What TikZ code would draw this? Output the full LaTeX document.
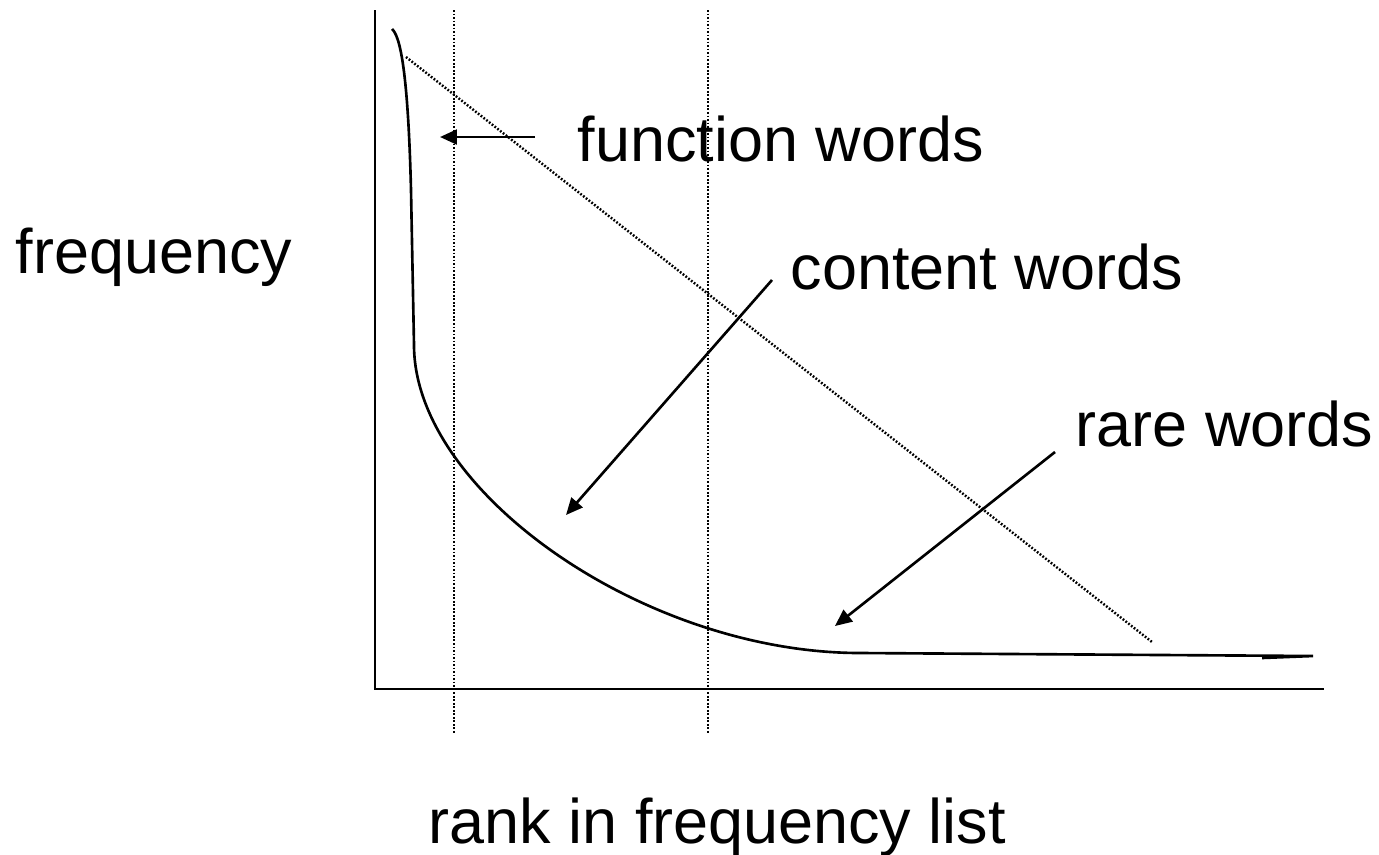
\documentclass[tikz,border=0pt]{standalone}
\usepackage{fontspec}
\setmainfont{Liberation Sans}
\usetikzlibrary{arrows.meta}

\begin{document}
\begin{tikzpicture}[x=0.01cm,y=-0.01cm,font=\fontsize{17.9pt}{21pt}\selectfont,
  >={Triangle[length=4.8pt,width=4.2pt]},
  axis/.style={line width=0.75pt},
  guide/.style={line width=0.7pt,dash pattern=on 0.5pt off 0.5pt},
  curve/.style={line width=0.75pt},
  pointer/.style={line width=0.75pt,->},
  lbl/.style={anchor=base west,inner sep=0pt}]
\useasboundingbox (0,0) rectangle (1379,854);
% axes
\draw[axis] (375,10) -- (375,689) -- (1324,689);
% band limits and straight reference line
\draw[guide] (454,10) -- (454,734);
\draw[guide] (708,10) -- (708,734);
\draw[guide] (406,57) -- (1152,642);
% rank/frequency curve
\draw[curve] (392,29) .. controls (400,36) and (408,70) .. (411,190) -- (414,345)
  .. controls (414,492) and (645,653) .. (860,653)
  -- (1313,656) -- (1262,658);
% labels
\node[lbl] (freq) at (15,273) {frequency};
\node[lbl] (rank) at (428,843) {rank in frequency list};
\node[lbl] (func) at (577,161) {function words};
\node[lbl] (cont) at (790,289) {content words};
\node[lbl] (rare) at (1075,446) {rare words};
% pointers
\coordinate (functail) at (535,137);
\coordinate (funchead) at (440,137);
\coordinate (conttail) at (772,280);
\coordinate (conthead) at (566,515);
\coordinate (raretail) at (1055,452);
\coordinate (rarehead) at (835,626);
\draw[pointer] (functail) -- (funchead);
\draw[pointer] (conttail) -- (conthead);
\draw[pointer] (raretail) -- (rarehead);
\end{tikzpicture}
\end{document}
